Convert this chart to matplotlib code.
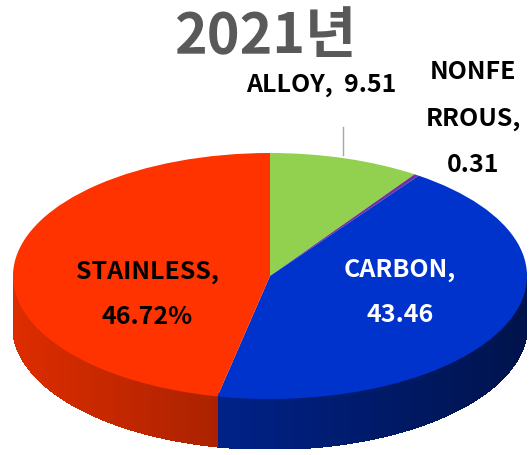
import numpy as np
import matplotlib
matplotlib.use("Agg")
import matplotlib.pyplot as plt
from matplotlib.collections import PolyCollection
from matplotlib.colors import to_rgb

plt.rcParams['font.family'] = ['Noto Sans CJK KR', 'DejaVu Sans']

title = '2021년'
categories = ['ALLOY', 'NONFERROUS', 'CARBON', 'STAINLESS']
values = [9.51, 0.31, 43.46, 46.72]
colors = ['#92D050', '#7030A0', '#0033CC', '#FF3300']

W, H = 530, 455
fig = plt.figure(figsize=(W / 100, H / 100), dpi=100)
fig.patch.set_facecolor('white')

# pie top surface: ellipse 257 x 123 px, side depth 50 px
a_px, b_px, depth_px = 257, 123, 50
cx, top = 270, 153
d = depth_px / b_px
left = (cx - a_px) / W
bottom = (H - (top + 2 * b_px + depth_px)) / H
ax = fig.add_axes([left, bottom, 2 * a_px / W, (2 * b_px + depth_px) / H])

# side band (only the front half is visible)
total = sum(values)
cum = np.concatenate([[0], np.cumsum(values)]) / total
polys, fcs = [], []
for i, c in enumerate(colors):
    t_hi = 90 - 360 * cum[i]
    t_lo = 90 - 360 * cum[i + 1]
    lo, hi = max(t_lo, -180), min(t_hi, 0)
    if lo >= hi:
        continue
    ts = np.linspace(lo, hi, max(int(hi - lo), 2) + 1)
    base = np.array(to_rgb(c))
    for t0, t1 in zip(ts[:-1], ts[1:]):
        r0, r1 = np.radians(t0), np.radians(t1)
        x0, y0, x1, y1 = np.cos(r0), np.sin(r0), np.cos(r1), np.sin(r1)
        polys.append([(x0, y0 + 0.02), (x1, y1 + 0.02), (x1, y1 - d), (x0, y0 - d)])
        shade = 0.62 - 0.25 * np.cos((r0 + r1) / 2)
        fcs.append(tuple(base * shade))
side = PolyCollection(polys, facecolors=fcs, edgecolors=fcs, linewidths=0.8,
                      antialiased=False)
ax.add_collection(side)

ax.pie(values, colors=colors, startangle=90, counterclock=False,
       wedgeprops=dict(linewidth=0.4, edgecolor='none'))
ax.set_aspect('auto')
ax.set_xlim(-1, 1)
ax.set_ylim(-1 - d, 1)
ax.axis('off')


def px_text(x, y, s, **kw):
    fig.text(x / W, 1 - y / H, s, ha='center', va='center', **kw)


px_text(265, 37, title, fontsize=40, fontweight='bold', color='#595959')
px_text(321, 85, 'ALLOY,  9.51', fontsize=18, fontweight='bold', color='black')
px_text(473, 72, 'NONFE', fontsize=18, fontweight='bold', color='black')
px_text(473, 119, 'RROUS,', fontsize=18, fontweight='bold', color='black')
px_text(473, 165, '0.31', fontsize=18, fontweight='bold', color='black')
px_text(147, 272, 'STAINLESS,', fontsize=18, fontweight='bold', color='black')
px_text(147, 317, '46.72%', fontsize=18, fontweight='bold', color='black')
px_text(400, 270, 'CARBON,', fontsize=18, fontweight='bold', color='white')
px_text(400, 315, '43.46', fontsize=18, fontweight='bold', color='white')

# leader line for ALLOY
fig.add_artist(plt.Line2D([343 / W, 343 / W], [1 - 127 / H, 1 - 155 / H],
                          color='#A6A6A6', linewidth=1))

fig.savefig('out.png', dpi=100, facecolor=fig.get_facecolor())
